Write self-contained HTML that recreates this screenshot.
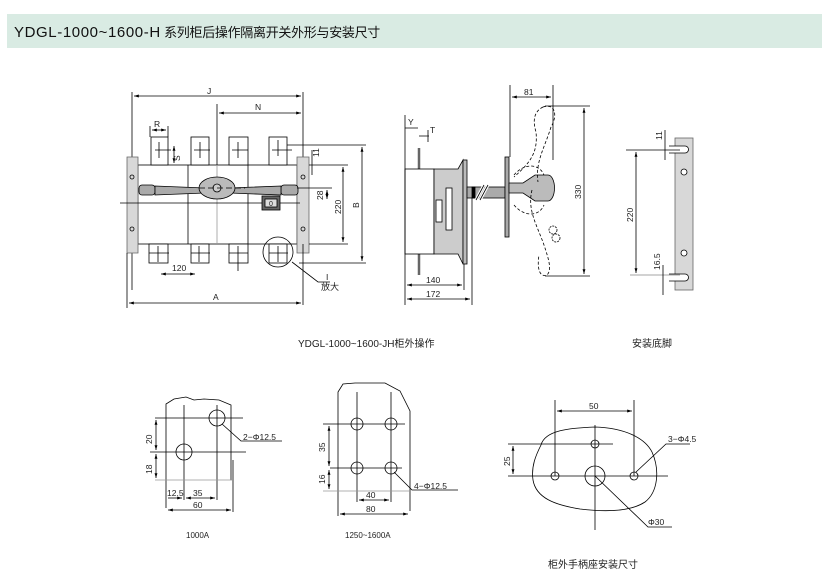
<!DOCTYPE html>
<html><head><meta charset="utf-8"><style>
body{margin:0;background:#fff;width:827px;height:578px;overflow:hidden}
svg{position:absolute;left:0;top:0}
text{font-family:"Liberation Sans","Noto Sans CJK SC",sans-serif;fill:#222}
</style></head><body>
<svg width="827" height="578" viewBox="0 0 827 578">
<defs><marker id="a" viewBox="0 0 10 10" refX="10" refY="5" markerWidth="6" markerHeight="6" orient="auto-start-reverse"><path d="M0,2L10,5L0,8z" fill="#000"/></marker></defs>
<rect x="7" y="14" width="815" height="34" fill="#d9ebe3"/>
<text x="14" y="37" font-size="15" letter-spacing="0.6" style="fill:#111">YDGL-1000~1600-H<tspan font-size="13" letter-spacing="-0.3"> 系列柜后操作隔离开关外形与安装尺寸</tspan></text>

<g stroke="#000" stroke-width="0.8" fill="none">
<line x1="132" y1="92" x2="132" y2="290"/><line x1="303" y1="92" x2="303" y2="165"/>
<line x1="134" y1="96" x2="301" y2="96" marker-start="url(#a)" marker-end="url(#a)"/>
<line x1="217" y1="104" x2="217" y2="165"/>
<line x1="219" y1="113" x2="301" y2="113" marker-start="url(#a)" marker-end="url(#a)"/>
<line x1="150" y1="126" x2="150" y2="137"/><line x1="168" y1="126" x2="168" y2="137"/>
<line x1="152" y1="130" x2="166" y2="130" marker-start="url(#a)" marker-end="url(#a)"/>
<rect x="138" y="165" width="159" height="79" fill="#fff"/>
<line x1="188" y1="165" x2="188" y2="244"/><line x1="248" y1="165" x2="248" y2="244"/>
<line x1="217" y1="165" x2="217" y2="244" stroke="#999"/>
<path d="M127,157h11v96h-11z M297,157h12v96h-12z" fill="#d8d8d8" stroke="#666"/>
<circle cx="132" cy="177" r="2"/><circle cx="132" cy="229" r="2"/><circle cx="303" cy="177" r="2"/><circle cx="303" cy="229" r="2"/>
<g fill="#fff">
<rect x="151" y="137" width="17" height="28"/><rect x="191" y="137" width="18" height="28"/><rect x="229" y="137" width="19" height="28"/><rect x="269" y="137" width="18" height="28"/>
<rect x="149" y="244" width="19" height="19"/><rect x="191" y="244" width="18" height="19"/><rect x="229" y="244" width="19" height="19"/><rect x="269" y="244" width="18" height="19"/>
</g>
<path d="M155,150h16M159,142v16M194,150h16M200,142v16M232,150h16M238,142v16M272,150h20M278,140v16M149,253h20M158,246v16M191,253h19M199,246v16M229,253h19M238,246v25M269,253h19M278,246v16"/>
<rect x="139" y="185" width="16" height="10" rx="3" fill="#aaa"/><rect x="281" y="185" width="17" height="10" rx="3" fill="#aaa"/>
<path d="M155,186L205,188L230,188L281,186V195L230,193L205,193L155,195z" fill="#aaa"/>
<ellipse cx="217" cy="188" rx="18" ry="11" fill="#bbb"/>
<circle cx="217" cy="188" r="4" fill="#ccc"/>
<line x1="120" y1="203" x2="300" y2="203"/>
<line x1="199" y1="188" x2="245" y2="188" stroke-dasharray="6,3"/>
<rect x="262" y="196" width="18" height="14" fill="#666"/><rect x="265" y="199" width="12" height="8" fill="#ddd"/>
<circle cx="278" cy="252" r="15"/>
<path d="M292,262L318,282H330"/>
<line x1="303" y1="244" x2="303" y2="305"/><line x1="127" y1="253" x2="127" y2="308"/>
<line x1="129" y1="303" x2="301" y2="303" marker-start="url(#a)" marker-end="url(#a)"/>
<line x1="161" y1="274" x2="195" y2="274" marker-start="url(#a)" marker-end="url(#a)"/>
<line x1="287" y1="145" x2="366" y2="145"/><line x1="299" y1="263" x2="366" y2="263"/>
<line x1="362" y1="147" x2="362" y2="261" marker-start="url(#a)" marker-end="url(#a)"/>
<line x1="309" y1="165" x2="348" y2="165"/><line x1="309" y1="244" x2="348" y2="244"/>
<line x1="343" y1="167" x2="343" y2="242" marker-start="url(#a)" marker-end="url(#a)"/>
<line x1="297" y1="188" x2="332" y2="188"/><line x1="327" y1="190" x2="327" y2="199" marker-start="url(#a)" marker-end="url(#a)"/>
<line x1="312" y1="150" x2="312" y2="175"/>
<line x1="174" y1="146" x2="174" y2="163" marker-start="url(#a)" marker-end="url(#a)"/>

<line x1="419" y1="148" x2="419" y2="275" stroke-width="2.5" stroke="#666"/>
<rect x="405" y="169" width="29" height="85" fill="#fff"/>
<path d="M434,169h24l5,-9v104l-5,-10h-24z" fill="#ccc"/>
<rect x="463" y="160" width="4" height="104" fill="#bbb"/>
<rect x="436" y="200" width="6" height="22" fill="#fff"/><rect x="446" y="188" width="6" height="42" fill="#fff"/>
<rect x="467" y="187" width="38" height="11" fill="#aaa"/><rect x="472" y="187" width="3" height="11" fill="#000"/>
<path d="M476,200l8,-15M480,200l8,-15" stroke="#fff" stroke-width="3"/><path d="M476,200l8,-15M480,200l8,-15"/>
<rect x="505" y="157" width="4" height="80" fill="#aaa"/>
<path d="M509,183h14l12,-8h13a6,12 0 0 1 0,26h-13l-12,-8h-14z" fill="#bbb"/>
<path d="M543,107c12,-4 15,8 8,20c-6,20 -16,35 -13,55M532,190c-5,20 5,35 12,55c5,15 8,25 3,30c-8,3 -10,-8 -8,-20M514,175c10,-12 25,-12 30,0M514,205c10,12 25,12 30,0M543,107c-10,5 -10,15 -7,25c2,20 -5,30 -22,45" stroke-dasharray="3,2"/>
<circle cx="553" cy="230" r="4" stroke-dasharray="2,1"/><circle cx="556" cy="238" r="4" stroke-dasharray="2,1"/>
<line x1="405" y1="115" x2="405" y2="305"/><line x1="472" y1="198" x2="472" y2="305"/><line x1="464" y1="264" x2="464" y2="290"/>
<line x1="407" y1="285" x2="462" y2="285" marker-start="url(#a)" marker-end="url(#a)"/>
<line x1="407" y1="299" x2="470" y2="299" marker-start="url(#a)" marker-end="url(#a)"/>
<path d="M405,128h13M419,136h10M428,130v12"/>
<line x1="510" y1="85" x2="510" y2="157"/><line x1="553" y1="85" x2="553" y2="160"/>
<line x1="512" y1="97" x2="551" y2="97" marker-start="url(#a)" marker-end="url(#a)"/>
<line x1="545" y1="106" x2="590" y2="106"/><line x1="545" y1="276" x2="590" y2="276"/>
<line x1="584" y1="108" x2="584" y2="274" marker-start="url(#a)" marker-end="url(#a)"/>

<rect x="675" y="138" width="18" height="152" fill="#d8d8d8" stroke="#666"/>
<circle cx="684" cy="172" r="3" fill="#fff"/><circle cx="684" cy="253" r="3" fill="#fff"/>
<path d="M669,146h16a3,3 0 0 1 0,7h-16M669,274h16a3,3 0 0 1 0,7h-16" fill="#fff"/>
<line x1="626" y1="150" x2="680" y2="150"/><line x1="630" y1="275" x2="680" y2="275" stroke="#888"/>
<line x1="636" y1="152" x2="636" y2="273" marker-start="url(#a)" marker-end="url(#a)"/>
<line x1="665" y1="130" x2="665" y2="160"/><line x1="663" y1="265" x2="663" y2="295"/>

<path d="M166,480V404l8,-5 12,-2 8,3 10,-1 15,1 12,5 v75" fill="#fff"/>
<circle cx="217" cy="418" r="8"/><circle cx="184" cy="452" r="8"/>
<path d="M155,418h88M150,452h96M184,405v95M217,405v95M166,480v28M233,460v52"/>
<line x1="155" y1="480" x2="233" y2="480" stroke="#999"/>
<line x1="156" y1="420" x2="156" y2="450" marker-start="url(#a)" marker-end="url(#a)"/>
<line x1="156" y1="454" x2="156" y2="478" marker-start="url(#a)" marker-end="url(#a)"/>
<line x1="168" y1="498" x2="182" y2="498" marker-end="url(#a)"/>
<line x1="186" y1="498" x2="215" y2="498" marker-start="url(#a)" marker-end="url(#a)"/>
<line x1="168" y1="510" x2="231" y2="510" marker-start="url(#a)" marker-end="url(#a)"/>
<path d="M222,424L241,441H282"/>

<path d="M338,480V392l5,-8 12,-1 30,0 15,8 10,20 v100" fill="#fff"/>
<circle cx="357" cy="424" r="6"/><circle cx="391" cy="424" r="6"/><circle cx="357" cy="468" r="6"/><circle cx="391" cy="468" r="6"/>
<path d="M323,424h82M330,468h72M357,392v110M391,392v110M338,480v36"/>
<line x1="323" y1="491" x2="410" y2="491" stroke="#999"/>
<line x1="329" y1="426" x2="329" y2="466" marker-start="url(#a)" marker-end="url(#a)"/>
<line x1="329" y1="470" x2="329" y2="489" marker-start="url(#a)" marker-end="url(#a)"/>
<line x1="359" y1="500" x2="389" y2="500" marker-start="url(#a)" marker-end="url(#a)"/>
<line x1="340" y1="514" x2="408" y2="514" marker-start="url(#a)" marker-end="url(#a)"/>
<path d="M394,472L412,490H458"/>

<path d="M541,445C545,430 570,428 595,427C625,428 645,438 652,452C660,470 658,492 645,502C630,512 605,512 580,509C555,505 536,498 533,480C531,466 536,455 541,445z" fill="#fff"/>
<circle cx="595" cy="444" r="4"/><circle cx="555" cy="476" r="4"/><circle cx="634" cy="476" r="4"/><circle cx="595" cy="476" r="10"/>
<path d="M555,400v76M634,400v76M595,425v105M508,476h160M508,444h105"/>
<line x1="557" y1="411" x2="632" y2="411" marker-start="url(#a)" marker-end="url(#a)"/>
<line x1="513" y1="446" x2="513" y2="474" marker-start="url(#a)" marker-end="url(#a)"/>
<path d="M595,476L648,527H672M636,472L666,444H690"/>
</g>

<g font-size="8.5">
<text x="207" y="94">J</text><text x="255" y="110">N</text><text x="154" y="127">R</text>
<text x="171" y="160" transform="rotate(-90 176 156)">S</text>
<text x="269" y="206" font-size="7">0</text>
<text x="321" y="290" font-size="9">放大</text><text x="326" y="280">I</text>
<text x="172" y="271">120</text><text x="213" y="300">A</text>
<g transform="rotate(-90)">
<text x="-157" y="319">11</text><text x="-200" y="323">28</text><text x="-214" y="341">220</text><text x="-208" y="359">B</text>
<text x="-199" y="581">330</text><text x="-222" y="633">220</text><text x="-140" y="662">11</text><text x="-270" y="660">16.5</text>
<text x="-444" y="152">20</text><text x="-474" y="152">18</text>
<text x="-452" y="325">35</text><text x="-484" y="325">16</text><text x="-466" y="510">25</text>
</g>
<text x="408" y="125">Y</text><text x="430" y="133">T</text>
<text x="426" y="283">140</text><text x="426" y="297">172</text><text x="524" y="95">81</text>
<text x="167" y="496">12.5</text><text x="193" y="496">35</text><text x="193" y="508">60</text>
<text x="243" y="440">2−Φ12.5</text>
<text x="366" y="498">40</text><text x="366" y="512">80</text>
<text x="414" y="489">4−Φ12.5</text>
<text x="589" y="409">50</text><text x="668" y="442">3−Φ4.5</text><text x="648" y="525">Φ30</text>
</g>
<g font-size="10">
<text x="298" y="347">YDGL-1000~1600-JH柜外操作</text>
<text x="632" y="347">安装底脚</text>
</g>
<g font-size="8"><text x="186" y="538">1000A</text><text x="345" y="538">1250~1600A</text></g>
<text x="548" y="568" font-size="10">柜外手柄座安装尺寸</text>
</svg>
</body></html>
